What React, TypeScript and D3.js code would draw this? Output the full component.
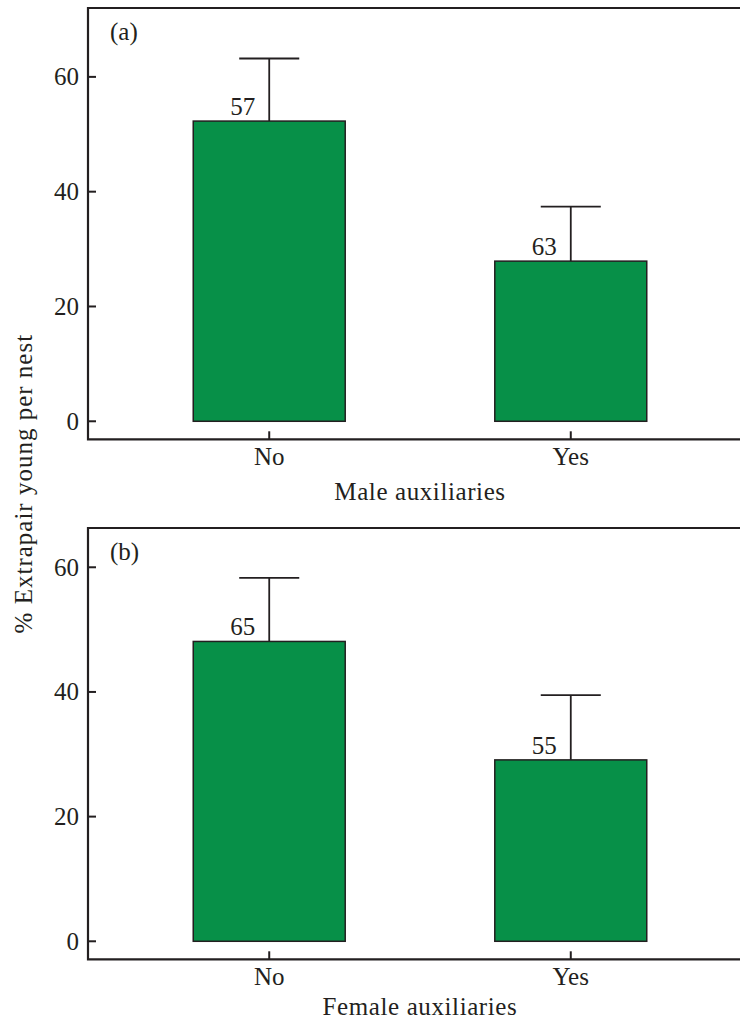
import React, { useEffect, useRef } from "react";
import * as d3 from "d3";

// data
const categories = ["No", "Yes"];
const maleMeans = [52.3, 27.9];
const maleErrors = [10.9, 9.5];
const maleN = [57, 63];
const femaleMeans = [48.1, 29.1];
const femaleErrors = [10.2, 10.4];
const femaleN = [65, 55];
const yTicks = [0, 20, 40, 60];
const panelTags = ["(a)", "(b)"];
const panelTitles = ["Male auxiliaries", "Female auxiliaries"];
const yTitle = "% Extrapair young per nest";

const App = () => {
  const svgRef = useRef<SVGSVGElement>(null);

  useEffect(() => {
    const width = 740;
    const height = 1023;
    const font = "'Liberation Serif', 'Times New Roman', serif";
    const ink = "#231f20";
    const green = "#079048";

    const svg = d3.select(svgRef.current)
      .attr("width", width)
      .attr("height", height);
    svg.selectAll("*").remove();

    const left = 88;
    const right = 752; // frame runs off the right edge

    const x = d3.scaleBand<string>()
      .domain(categories)
      .range([left, right])
      .paddingInner(0.496)
      .paddingOuter(0.349);

    const panels = [
      { top: 8, bottom: 439.3, domain: [-3.14, 72.0], means: maleMeans, errs: maleErrors, n: maleN, titleDy: 61 },
      { top: 528, bottom: 959.3, domain: [-2.89, 66.3], means: femaleMeans, errs: femaleErrors, n: femaleN, titleDy: 56 },
    ];

    panels.forEach((p, pi) => {
      const y = d3.scaleLinear().domain(p.domain).range([p.bottom, p.top]);
      const g = svg.append("g");

      // frame: left, top, bottom
      g.append("path")
        .attr("d", `M${right},${p.top}H${left}V${p.bottom}H${right}`)
        .attr("fill", "none")
        .attr("stroke", ink)
        .attr("stroke-width", 2.2);

      // y ticks (inward)
      yTicks.forEach(t => {
        g.append("line")
          .attr("x1", left).attr("x2", left + 8)
          .attr("y1", y(t)).attr("y2", y(t))
          .attr("stroke", ink).attr("stroke-width", 2);
        g.append("text")
          .attr("x", left - 9)
          .attr("y", y(t))
          .attr("dy", "0.34em")
          .attr("text-anchor", "end")
          .attr("font-family", font)
          .attr("font-size", 25)
          .attr("fill", ink)
          .text(t);
      });

      // x ticks (upward)
      categories.forEach(c => {
        const cx = x(c)! + x.bandwidth() / 2;
        g.append("line")
          .attr("x1", cx).attr("x2", cx)
          .attr("y1", p.bottom).attr("y2", p.bottom - 8)
          .attr("stroke", ink).attr("stroke-width", 2);
        g.append("text")
          .attr("x", cx)
          .attr("y", p.bottom + 26)
          .attr("text-anchor", "middle")
          .attr("font-family", font)
          .attr("font-size", 25)
          .attr("fill", ink)
          .text(c);
      });

      // error bars
      const capW = x.bandwidth() * 0.395;
      categories.forEach((c, i) => {
        const cx = x(c)! + x.bandwidth() / 2;
        const top = y(p.means[i] + p.errs[i]);
        g.append("line")
          .attr("x1", cx).attr("x2", cx)
          .attr("y1", y(p.means[i])).attr("y2", top)
          .attr("stroke", ink).attr("stroke-width", 1.8);
        g.append("line")
          .attr("x1", cx - capW / 2).attr("x2", cx + capW / 2)
          .attr("y1", top).attr("y2", top)
          .attr("stroke", ink).attr("stroke-width", 1.8);
      });

      // bars
      g.selectAll("rect.bar")
        .data(p.means)
        .join("rect")
        .attr("class", "bar")
        .attr("x", (d, i) => x(categories[i])!)
        .attr("width", x.bandwidth())
        .attr("y", d => y(d))
        .attr("height", d => y(0) - y(d))
        .attr("fill", green)
        .attr("stroke", ink)
        .attr("stroke-width", 1.5);

      // sample sizes
      categories.forEach((c, i) => {
        const cx = x(c)! + x.bandwidth() / 2;
        g.append("text")
          .attr("x", cx - 14)
          .attr("y", y(p.means[i]) - 6)
          .attr("text-anchor", "end")
          .attr("font-family", font)
          .attr("font-size", 25)
          .attr("fill", ink)
          .text(p.n[i]);
      });

      // panel tag
      g.append("text")
        .attr("x", left + 22)
        .attr("y", p.top + 32)
        .attr("font-family", font)
        .attr("font-size", 25)
        .attr("fill", ink)
        .text(panelTags[pi]);

      // axis title
      g.append("text")
        .attr("x", (left + right) / 2)
        .attr("y", p.bottom + p.titleDy)
        .attr("text-anchor", "middle")
        .attr("font-family", font)
        .attr("font-size", 25)
        .attr("letter-spacing", 0.6)
        .attr("fill", ink)
        .text(panelTitles[pi]);
    });

    // shared y title
    svg.append("text")
      .attr("transform", `translate(32,${(panels[0].top + panels[1].bottom) / 2}) rotate(-90)`)
      .attr("text-anchor", "middle")
      .attr("font-family", font)
      .attr("font-size", 25)
      .attr("letter-spacing", 1)
      .attr("fill", ink)
      .text(yTitle);
  }, []);

  return (
    <div style={{ position: "absolute", left: 0, top: 0 }}>
      <svg ref={svgRef} style={{ display: "block", background: "#fff" }}></svg>
    </div>
  );
};

export default App;
